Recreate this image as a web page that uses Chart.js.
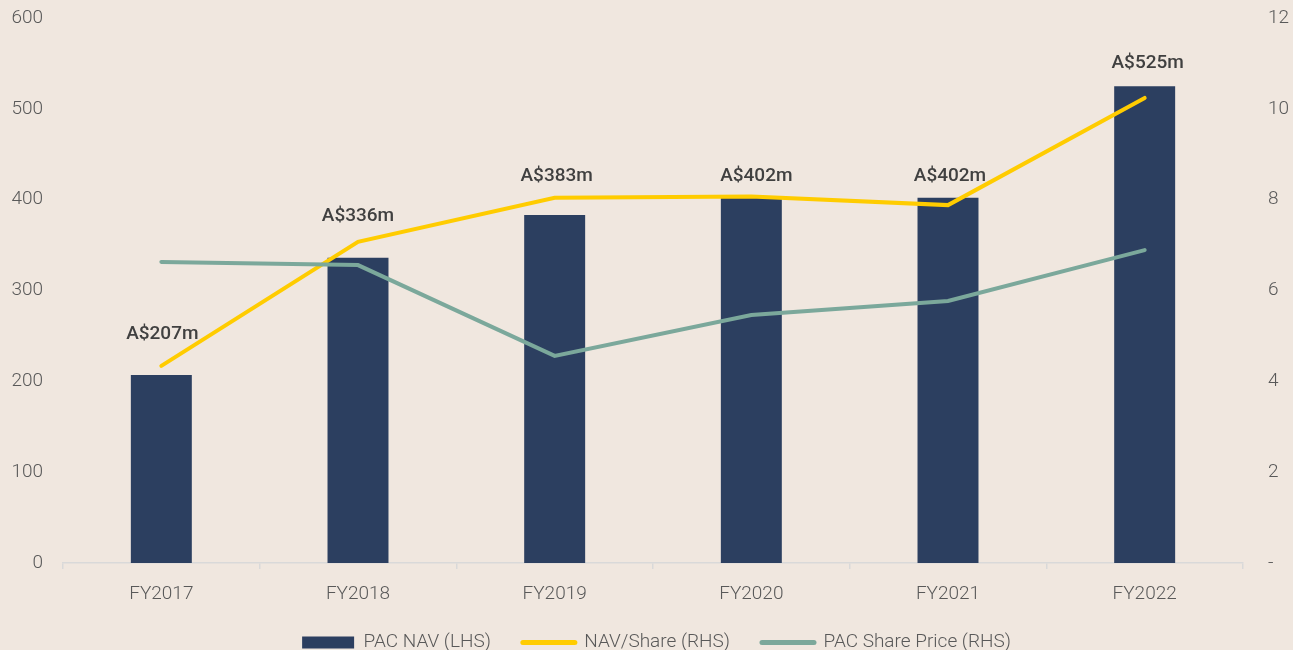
<!DOCTYPE html>
<html>
<head>
<meta charset="utf-8">
<script src="https://cdn.jsdelivr.net/npm/chart.js@4/dist/chart.umd.min.js"></script>
<style>
  html, body { margin: 0; padding: 0; background: #F0E7DF; }
  #wrap { width: 1293px; height: 650px; }
</style>
</head>
<body>
<div id="wrap"><canvas id="c" width="1293" height="650"></canvas></div>
<script>
const categories = ['FY2017', 'FY2018', 'FY2019', 'FY2020', 'FY2021', 'FY2022'];
const navMillions = [207, 336, 383, 402, 402, 525];
const navPerShare = [4.34, 7.07, 8.04, 8.07, 7.88, 10.24];
const sharePrice = [6.63, 6.56, 4.56, 5.46, 5.77, 6.89];
const leftTicks = [0, 100, 200, 300, 400, 500, 600];
const rightTicks = [0, 2, 4, 6, 8, 10, 12];

const TEXT = '#595959';
const FONT = 'Roboto';

const barLabels = {
  id: 'barLabels',
  afterDatasetsDraw(chart, args, opts) {
    const meta = chart.getDatasetMeta(0);
    const ctx = chart.ctx;
    ctx.save();
    ctx.font = '500 19px ' + FONT;
    ctx.fillStyle = '#404040';
    ctx.textAlign = 'center';
    ctx.textBaseline = 'middle';
    meta.data.forEach((bar, i) => {
      ctx.fillText('A$' + navMillions[i] + 'm', bar.x + (opts.dx[i] || 0), bar.y - opts.lift[i]);
    });
    ctx.restore();
  }
};

const legendShift = {
  id: 'legendShift',
  afterLayout(chart, args, opts) {
    if (chart.legend) {
      chart.legend.left += opts.dx;
      chart.legend.right += opts.dx;
    }
  }
};

new Chart(document.getElementById('c'), {
  type: 'bar',
  data: {
    labels: categories,
    datasets: [
      {
        label: 'PAC NAV (LHS)',
        data: navMillions,
        backgroundColor: '#2C3F60',
        borderWidth: 0,
        barPercentage: 0.31,
        categoryPercentage: 1.0,
        yAxisID: 'y',
        order: 2
      },
      {
        type: 'line',
        label: 'NAV/Share (RHS)',
        data: navPerShare,
        borderColor: '#FFCC00',
        backgroundColor: '#FFCC00',
        borderWidth: 4,
        borderCapStyle: 'round',
        pointRadius: 0,
        tension: 0,
        yAxisID: 'y1',
        order: 1
      },
      {
        type: 'line',
        label: 'PAC Share Price (RHS)',
        data: sharePrice,
        borderColor: '#7BA89B',
        backgroundColor: '#7BA89B',
        borderWidth: 4,
        borderCapStyle: 'round',
        pointRadius: 0,
        tension: 0,
        yAxisID: 'y1',
        order: 0
      }
    ]
  },
  options: {
    responsive: false,
    animation: false,
    devicePixelRatio: 1,
    layout: { padding: { top: 18, bottom: -12, left: 0, right: 0 } },
    plugins: {
      tooltip: { enabled: false },
      barLabels: { lift: [41, 42, 39, 22, 22, 23], dx: [1, 0, 2, 5, 2, 3] },
      legendShift: { dx: 10 },
      legend: {
        position: 'bottom',
        labels: {
          usePointStyle: true,
          pointStyleWidth: 52,
          boxHeight: 12,
          padding: 32,
          color: TEXT,
          font: { family: FONT, size: 19, weight: '300' },
          generateLabels(chart) {
            const items = Chart.defaults.plugins.legend.labels.generateLabels(chart);
            items.sort((a, b) => a.datasetIndex - b.datasetIndex);
            items.forEach(it => {
              if (it.datasetIndex === 0) {
                it.pointStyle = 'rect';
                it.lineWidth = 0;
              } else {
                it.pointStyle = 'line';
                it.lineWidth = 5;
                it.lineCap = 'round';
              }
            });
            return items;
          }
        }
      }
    },
    scales: {
      x: {
        offset: true,
        afterFit(axis) { axis.height = 38; },
        grid: {
          offset: true,
          drawOnChartArea: false,
          drawTicks: true,
          tickLength: 6,
          color: '#D9D9D9',
          lineWidth: 1.5
        },
        border: { display: true, color: '#D9D9D9', width: 1.5 },
        ticks: { color: TEXT, padding: 14, font: { family: FONT, size: 19, weight: '300' } }
      },
      y: {
        position: 'left',
        min: 0,
        max: 600,
        afterBuildTicks(axis) { axis.ticks = leftTicks.map(v => ({ value: v })); },
        afterFit(axis) { axis.width = 63; },
        grid: { display: false, drawTicks: true, tickLength: 20 },
        border: { display: false },
        ticks: { color: TEXT, padding: 0, font: { family: FONT, size: 19, weight: '300' } }
      },
      y1: {
        position: 'right',
        min: 0,
        max: 12,
        afterBuildTicks(axis) { axis.ticks = rightTicks.map(v => ({ value: v })); },
        afterFit(axis) { axis.width = 50; },
        grid: { display: false, drawTicks: true, tickLength: 25 },
        border: { display: false },
        ticks: {
          color: TEXT,
          padding: 0,
          font: { family: FONT, size: 19, weight: '300' },
          callback: v => (v === 0 ? '-' : String(v))
        }
      }
    }
  },
  plugins: [barLabels, legendShift]
});
</script>
</body>
</html>
